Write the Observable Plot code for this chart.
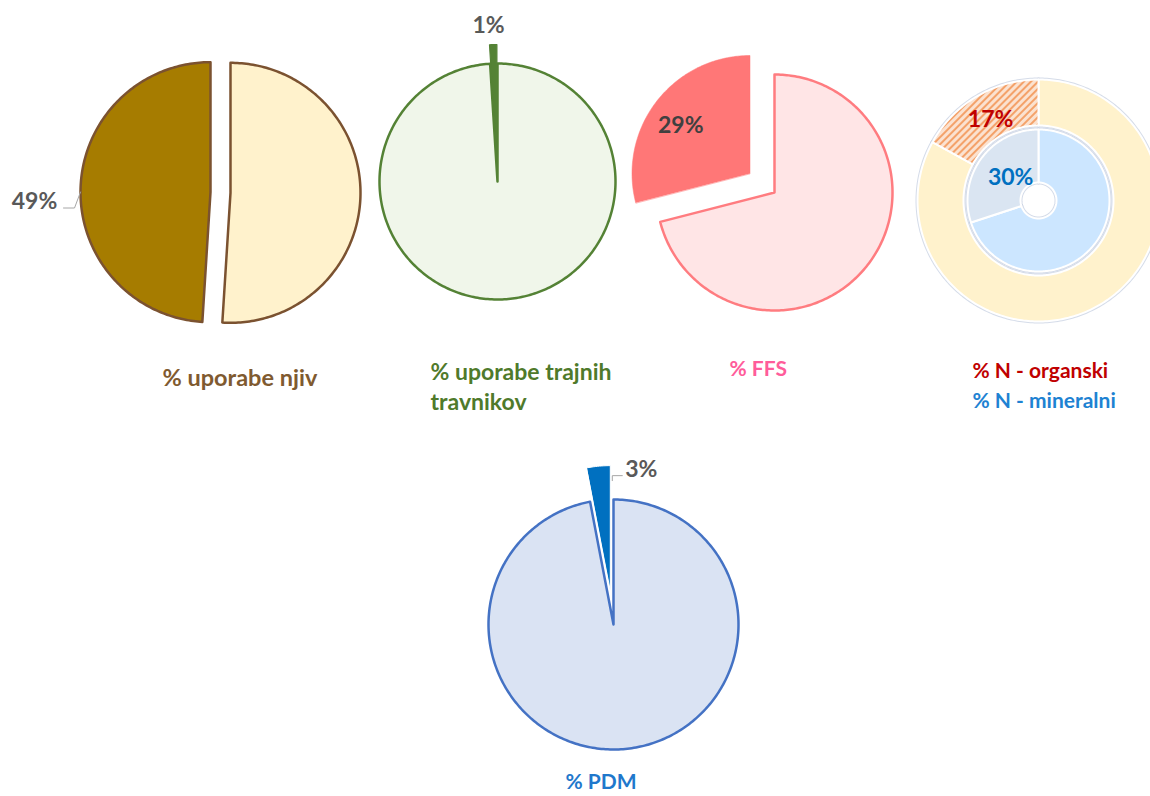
<!DOCTYPE html>
<html><head><meta charset="utf-8">
<script src="https://cdn.jsdelivr.net/npm/d3@7"></script>
<script src="https://cdn.jsdelivr.net/npm/@observablehq/plot@0.6"></script>
<style>body{margin:0;background:#fff} #chart{width:1150px;height:796px}</style>
</head><body><div id="chart"></div>
<script>
// ---------- DATA ----------
const njivCategories = ["ostalo", "uporaba njiv"];
const njivValues = [51, 49];
const travnikiCategories = ["ostalo", "uporaba trajnih travnikov"];
const travnikiValues = [99, 1];
const ffsCategories = ["ostalo", "FFS"];
const ffsValues = [71, 29];
const nOrganskiCategories = ["ostalo", "N - organski"];
const nOrganskiValues = [83, 17];
const nMineralniCategories = ["ostalo", "N - mineralni"];
const nMineralniValues = [70, 30];
const pdmCategories = ["ostalo", "PDM"];
const pdmValues = [97, 3];
const titleNjiv = ["% uporabe njiv"];
const titleTravniki = ["% uporabe trajnih", "travnikov"];
const titleFfs = ["% FFS"];
const titleN = ["% N - organski", "% N - mineralni"];
const titlePdm = ["% PDM"];

// ---------- LAYOUT / STYLE ----------
const W = 1150, H = 796;
const FONT = "Lato, 'Open Sans', sans-serif";
const LABEL_GRAY = "#595959";
const LABEL_SIZE = 23;
const pct = v => `${v}%`;

function slicePoints(cx, cy, r0, r1, a0, a1, ex) {
  const m = (a0 + a1) / 2;
  const ox = cx + ex * Math.sin(m), oy = cy - ex * Math.cos(m);
  const n = Math.max(2, Math.ceil((a1 - a0) / (Math.PI / 180)));
  const pts = [];
  for (let i = 0; i <= n; i++) { const a = a0 + (a1 - a0) * i / n; pts.push({x: ox + r1 * Math.sin(a), y: oy - r1 * Math.cos(a)}); }
  if (r0 > 0) for (let i = n; i >= 0; i--) { const a = a0 + (a1 - a0) * i / n; pts.push({x: ox + r0 * Math.sin(a), y: oy - r0 * Math.cos(a)}); }
  else pts.push({x: ox, y: oy});
  return pts;
}
function arcs(values) { return d3.pie().sort(null).value(d => d)(values); }
function polar(cx, cy, r, a) { return {x: cx + r * Math.sin(a), y: cy - r * Math.cos(a)}; }

const marks = [];
function pie(values, g, styles) {
  const out = arcs(values).map((a, i) => ({a, pts: slicePoints(g.cx, g.cy, g.r0 || 0, g.r, a.startAngle, a.endAngle, g.explode[i])}));
  out.forEach((s, i) => marks.push(Plot.line(s.pts, {x: "x", y: "y", curve: "linear-closed", fill: styles[i].fill, stroke: styles[i].stroke, strokeWidth: styles[i].sw, strokeLinejoin: "round"})));
  return out;
}
function text(x, y, t, opt) {
  marks.push(Plot.text([{x, y, t}], {x: "x", y: "y", text: "t", fontFamily: FONT, fontWeight: "bold", fontSize: LABEL_SIZE, fill: LABEL_GRAY, ...opt}));
}

// Pie 1 - njive
const g1 = {cx: 220, cy: 192, r: 130, explode: [10, 10]};
const p1 = pie(njivValues, g1, [
  {fill: "#FFF2CC", stroke: "#7B5230", sw: 2.5},
  {fill: "#A67C00", stroke: "#7B5230", sw: 2.5}]);
{
  const a = p1[1].a, m = (a.startAngle + a.endAngle) / 2;
  const c = polar(g1.cx, g1.cy, g1.explode[1], m);
  const anchor = polar(c.x, c.y, g1.r, m - 0.03);
  const lx = anchor.x - 46, ly = anchor.y + 10;
  marks.push(Plot.line([anchor, {x: anchor.x - 6, y: ly + 6}, {x: anchor.x - 17, y: ly + 6}], {x: "x", y: "y", stroke: "#A6A6A6", strokeWidth: 1}));
  text(lx, ly, pct(njivValues[1]), {textAnchor: "middle"});
}

// Pie 2 - travniki
const g2 = {cx: 497, cy: 181, r: 118, explode: [0, 19]};
const p2 = pie(travnikiValues, g2, [
  {fill: "#F0F6EA", stroke: "#548235", sw: 2.5},
  {fill: "#548235", stroke: "#548235", sw: 1.2}]);
{
  const a = p2[1].a, m = (a.startAngle + a.endAngle) / 2;
  const p = polar(g2.cx, g2.cy, g2.r + g2.explode[1] + 20, m);
  text(p.x - 4, p.y + 1, pct(travnikiValues[1]), {textAnchor: "middle"});
}

// Pie 3 - FFS
const g3 = {cx: 774, cy: 192, r: 118, explode: [0, 31]};
const p3 = pie(ffsValues, g3, [
  {fill: "#FFE5E6", stroke: "#FF7C80", sw: 2.5},
  {fill: "#FF7777", stroke: "#FF7777", sw: 0.5}]);
{
  const a = p3[1].a, m = (a.startAngle + a.endAngle) / 2;
  const c = polar(g3.cx, g3.cy, g3.explode[1], m);
  const p = polar(c.x, c.y, g3.r * 0.7, m);
  text(p.x - 4, p.y + 3, pct(ffsValues[1]), {textAnchor: "middle", fill: "#404040"});
}

// Pie 4 - N doughnut (outer organski, inner mineralni)
const g4o = {cx: 1038, cy: 200, r: 121, r0: 75, explode: [0, 0]};
const g4i = {cx: 1038, cy: 200, r: 71, r0: 18, explode: [0, 0]};
// soft shadow edges
[[nOrganskiValues, g4o], [nMineralniValues, g4i]].forEach(([v, g]) => arcs(v).forEach(a =>
  marks.push(Plot.line(slicePoints(g.cx, g.cy, g.r0, g.r, a.startAngle, a.endAngle, 0), {x: "x", y: "y", curve: "linear-closed", fill: "none", stroke: "#C3CDE0", strokeWidth: 4, strokeOpacity: 0.7}))));
const p4o = pie(nOrganskiValues, g4o, [
  {fill: "#FFF2CC", stroke: "#fff", sw: 2},
  {fill: "url(#hatch)", stroke: "#fff", sw: 2}]);
const p4i = pie(nMineralniValues, g4i, [
  {fill: "#CCE6FF", stroke: "#fff", sw: 2},
  {fill: "#DAE5F2", stroke: "#fff", sw: 2}]);
{
  let a = p4o[1].a, m = (a.startAngle + a.endAngle) / 2;
  let p = polar(g4o.cx, g4o.cy, (g4o.r + g4o.r0) / 2, m);
  text(p.x + 2, p.y + 3, pct(nOrganskiValues[1]), {textAnchor: "middle", fill: "#C00000"});
  a = p4i[1].a; m = (a.startAngle + a.endAngle) / 2;
  p = polar(g4i.cx, g4i.cy, 36, m + 0.06);
  text(p.x, p.y, pct(nMineralniValues[1]), {textAnchor: "middle", fill: "#0070C0"});
}

// Pie 5 - PDM
const g5 = {cx: 613, cy: 624, r: 125, explode: [0, 34]};
const p5 = pie(pdmValues, g5, [
  {fill: "#DAE3F3", stroke: "#4472C4", sw: 2.5},
  {fill: "#0070C0", stroke: "#fff", sw: 1}]);
{
  const a = p5[1].a;
  const c = polar(g5.cx, g5.cy, g5.explode[1], (a.startAngle + a.endAngle) / 2);
  const e = polar(c.x, c.y, g5.r - 10, a.endAngle);
  marks.push(Plot.line([{x: e.x + 2, y: e.y + 5}, {x: e.x + 2, y: e.y}, {x: e.x + 12, y: e.y}], {x: "x", y: "y", stroke: "#A6A6A6", strokeWidth: 1}));
  text(e.x + 31, e.y - 6, pct(pdmValues[1]), {textAnchor: "middle"});
}

// Titles
const titleStyle = {textAnchor: "start", fontSize: 21};
titleNjiv.forEach((t, i) => text(162, 378 + i * 30, t, {...titleStyle, fontSize: 23.5, fill: "#7F5A30"}));
titleTravniki.forEach((t, i) => text(430, 372 + i * 30, t, {...titleStyle, fontSize: 23, fill: "#4F7A2B"}));
titleFfs.forEach((t, i) => text(729, 369 + i * 30, t, {...titleStyle, fill: "#FF5C9A"}));
text(972, 371, titleN[0], {...titleStyle, fill: "#C00000"});
text(972, 401, titleN[1], {...titleStyle, fill: "#1E82D2"});
titlePdm.forEach((t, i) => text(565, 782 + i * 30, t, {...titleStyle, fontSize: 21, fill: "#1F78CC"}));

const chart = Plot.plot({
  width: W, height: H, margin: 0,
  x: {domain: [0, W], range: [0, W], axis: null},
  y: {domain: [0, H], range: [0, H], axis: null},
  style: {background: "#fff", overflow: "visible"},
  marks
});
const defs = d3.select(chart).insert("defs", ":first-child");
const pat = defs.append("pattern").attr("id", "hatch").attr("patternUnits", "userSpaceOnUse")
  .attr("width", 5).attr("height", 5).attr("patternTransform", "rotate(45)");
pat.append("rect").attr("width", 5).attr("height", 5).attr("fill", "#FBE2D0");
pat.append("line").attr("x1", 1).attr("y1", 0).attr("x2", 1).attr("y2", 5).attr("stroke", "#F4A26A").attr("stroke-width", 2);
document.getElementById("chart").append(chart);
</script>
</body></html>
